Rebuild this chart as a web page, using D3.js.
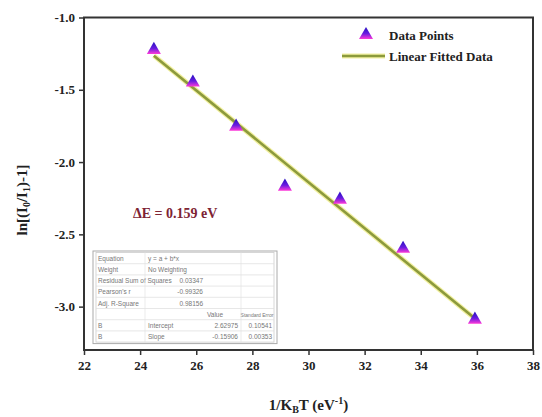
<!DOCTYPE html>
<html>
<head>
<meta charset="utf-8">
<script src="https://cdn.jsdelivr.net/npm/d3@7"></script>
<style>
  body { margin: 0; background: #fff; }
  svg text { font-family: "Liberation Serif", "Times New Roman", serif; }
</style>
</head>
<body>
<svg id="chart" width="542" height="417"></svg>
<script>
// data
const invKT = [24.49, 25.88, 27.42, 29.16, 31.12, 33.37, 35.93];
const lnRatio = [-1.224, -1.45, -1.755, -2.17, -2.26, -2.60, -3.09];
const fitSlope = -0.159;
const fitIntercept = 2.63;
const xTicks = [22, 24, 26, 28, 30, 32, 34, 36, 38];
const yTicks = [-1.0, -1.5, -2.0, -2.5, -3.0];
const tableRows = [
  ['Equation', 'y = a + b*x', '', ''],
  ['Weight', 'No Weighting', '', ''],
  ['Residual Sum of Squares', '0.03347', '', ''],
  ["Pearson's r", '-0.99326', '', ''],
  ['Adj. R-Square', '0.98156', '', ''],
  ['', '', 'Value', 'Standard Error'],
  ['B', 'Intercept', '2.62975', '0.10541'],
  ['B', 'Slope', '-0.15906', '0.00353']
];

const svg = d3.select('#chart');
const margin = { top: 17.5, right: 9, bottom: 67, left: 84 };
const width = 542 - margin.left - margin.right;
const height = 417 - margin.top - margin.bottom;

const x = d3.scaleLinear().domain([22, 38]).range([0, width]);
const y = d3.scaleLinear().domain([-3.3, -1.0]).range([height, 0]);

const defs = svg.append('defs');
const grad = defs.append('linearGradient')
  .attr('id', 'triGrad')
  .attr('x1', 0).attr('y1', 0).attr('x2', 0).attr('y2', 1);
grad.append('stop').attr('offset', '0%').attr('stop-color', '#2410c0');
grad.append('stop').attr('offset', '55%').attr('stop-color', '#6a1ce0');
grad.append('stop').attr('offset', '100%').attr('stop-color', '#ff3ad8');

const g = svg.append('g')
  .attr('transform', `translate(${margin.left},${margin.top})`);

// fit line
const fitX = [invKT[0], invKT[invKT.length - 1]];
g.append('line')
  .attr('x1', x(fitX[0])).attr('y1', y(fitIntercept + fitSlope * fitX[0]))
  .attr('x2', x(fitX[1])).attr('y2', y(fitIntercept + fitSlope * fitX[1]))
  .attr('stroke', '#f2f0a0').attr('stroke-width', 5);
g.append('line')
  .attr('x1', x(fitX[0])).attr('y1', y(fitIntercept + fitSlope * fitX[0]))
  .attr('x2', x(fitX[1])).attr('y2', y(fitIntercept + fitSlope * fitX[1]))
  .attr('stroke', '#8c9a3c').attr('stroke-width', 2.6);

// triangles
const tri = d3.symbol().type(d3.symbolTriangle).size(85);
g.selectAll('.pt')
  .data(invKT.map((v, i) => [v, lnRatio[i]]))
  .join('path')
  .attr('class', 'pt')
  .attr('d', tri)
  .attr('transform', d => `translate(${x(d[0])},${y(d[1])})`)
  .attr('fill', 'url(#triGrad)');

// axes
const xAxis = g.append('g')
  .attr('transform', `translate(0,${height})`)
  .call(d3.axisBottom(x).tickValues(xTicks).tickFormat(d3.format('d')).tickSize(5).tickPadding(6));
const yAxis = g.append('g')
  .call(d3.axisLeft(y).tickValues(yTicks).tickFormat(d3.format('.1f')).tickSize(5).tickPadding(4));
[xAxis, yAxis].forEach(a => {
  a.select('.domain').remove();
  a.selectAll('line').attr('stroke', '#333').attr('stroke-width', 1.5);
  a.selectAll('text')
    .attr('fill', '#222')
    .style('font-size', '13px')
    .style('font-weight', 'bold');
});
yAxis.selectAll('text').text(d => d3.format('.1f')(d).replace('−', '-'));

g.append('rect')
  .attr('width', width).attr('height', height)
  .attr('fill', 'none').attr('stroke', '#333').attr('stroke-width', 2);

// axis titles
const xt = svg.append('text')
  .attr('x', margin.left + width / 2).attr('y', 410)
  .attr('text-anchor', 'middle')
  .style('font-size', '15px').style('font-weight', 'bold').attr('fill', '#222');
xt.append('tspan').text('1/K');
xt.append('tspan').attr('dy', 3).style('font-size', '10px').text('B');
xt.append('tspan').attr('dy', -3).text('T (eV');
xt.append('tspan').attr('dy', -6).style('font-size', '10px').text('-1');
xt.append('tspan').attr('dy', 6).text(')');

const yt = svg.append('text')
  .attr('transform', 'translate(27,200) rotate(-90)')
  .attr('text-anchor', 'middle')
  .style('font-size', '15px').style('font-weight', 'bold').attr('fill', '#222');
yt.append('tspan').text('ln[(I');
yt.append('tspan').attr('dy', 3).style('font-size', '10px').text('0');
yt.append('tspan').attr('dy', -3).text('/I');
yt.append('tspan').attr('dy', 3).style('font-size', '10px').text('1');
yt.append('tspan').attr('dy', -3).text(')-1]');

// legend
const leg = svg.append('g');
leg.append('path').attr('d', tri).attr('transform', 'translate(366,35)').attr('fill', 'url(#triGrad)');
leg.append('text').attr('x', 389).attr('y', 40).text('Data Points')
  .style('font-size', '13px').style('font-weight', 'bold').attr('fill', '#222');
leg.append('line').attr('x1', 342).attr('x2', 385).attr('y1', 56).attr('y2', 56)
  .attr('stroke', '#f2f0a0').attr('stroke-width', 5);
leg.append('line').attr('x1', 342).attr('x2', 385).attr('y1', 56).attr('y2', 56)
  .attr('stroke', '#8c9a3c').attr('stroke-width', 2.6);
leg.append('text').attr('x', 389).attr('y', 61).text('Linear Fitted Data')
  .style('font-size', '13px').style('font-weight', 'bold').attr('fill', '#222');

// energy annotation
svg.append('text').attr('x', 133).attr('y', 218)
  .text('\u0394E = 0.159 eV')
  .style('font-size', '14px').style('font-weight', 'bold').attr('fill', '#7e2434');

// fit table
const tb = svg.append('g').attr('transform', 'translate(93,251)');
const tw = 184, rowH = 11.2;
tb.append('rect').attr('width', tw).attr('height', rowH * tableRows.length + 3)
  .attr('fill', '#fff').attr('stroke', '#aaa').attr('stroke-width', 1);
tb.append('rect').attr('x', 3).attr('y', 1.5).attr('width', tw - 6).attr('height', rowH * tableRows.length)
  .attr('fill', 'none').attr('stroke', '#ccc').attr('stroke-width', 0.8);
// column anchors: left starts, right ends, header centres
const colX = [5, 55, 112, 150];
const colEnd = [52, 110, 145, 179];
const colMid = [28, 82, 122, 164];
tableRows.forEach((row, i) => {
  if (i > 0) {
    tb.append('line').attr('x1', 3).attr('x2', tw - 3)
      .attr('y1', 1.5 + i * rowH).attr('y2', 1.5 + i * rowH)
      .attr('stroke', '#ddd').attr('stroke-width', 0.7);
  }
  row.forEach((cell, j) => {
    if (!cell) return;
    const header = i === 5;
    const right = !header && i >= 2 && j >= 1 && !(i >= 6 && j === 1);
    tb.append('text')
      .attr('x', header ? colMid[j] : (right ? colEnd[j] : colX[j]))
      .attr('y', 1.5 + i * rowH + 8.3)
      .attr('text-anchor', header ? 'middle' : (right ? 'end' : 'start'))
      .text(cell)
      .style('font-family', '"Liberation Sans", Arial, sans-serif')
      .style('font-size', header && j === 3 ? '5px' : '6.5px').attr('fill', '#777');
  });
});
[colX[1] - 3, 148].forEach(cx => {
  tb.append('line').attr('x1', cx).attr('x2', cx).attr('y1', 1.5).attr('y2', 1.5 + rowH * tableRows.length)
    .attr('stroke', '#e2e2e2').attr('stroke-width', 0.7);
});
</script>
</body>
</html>
